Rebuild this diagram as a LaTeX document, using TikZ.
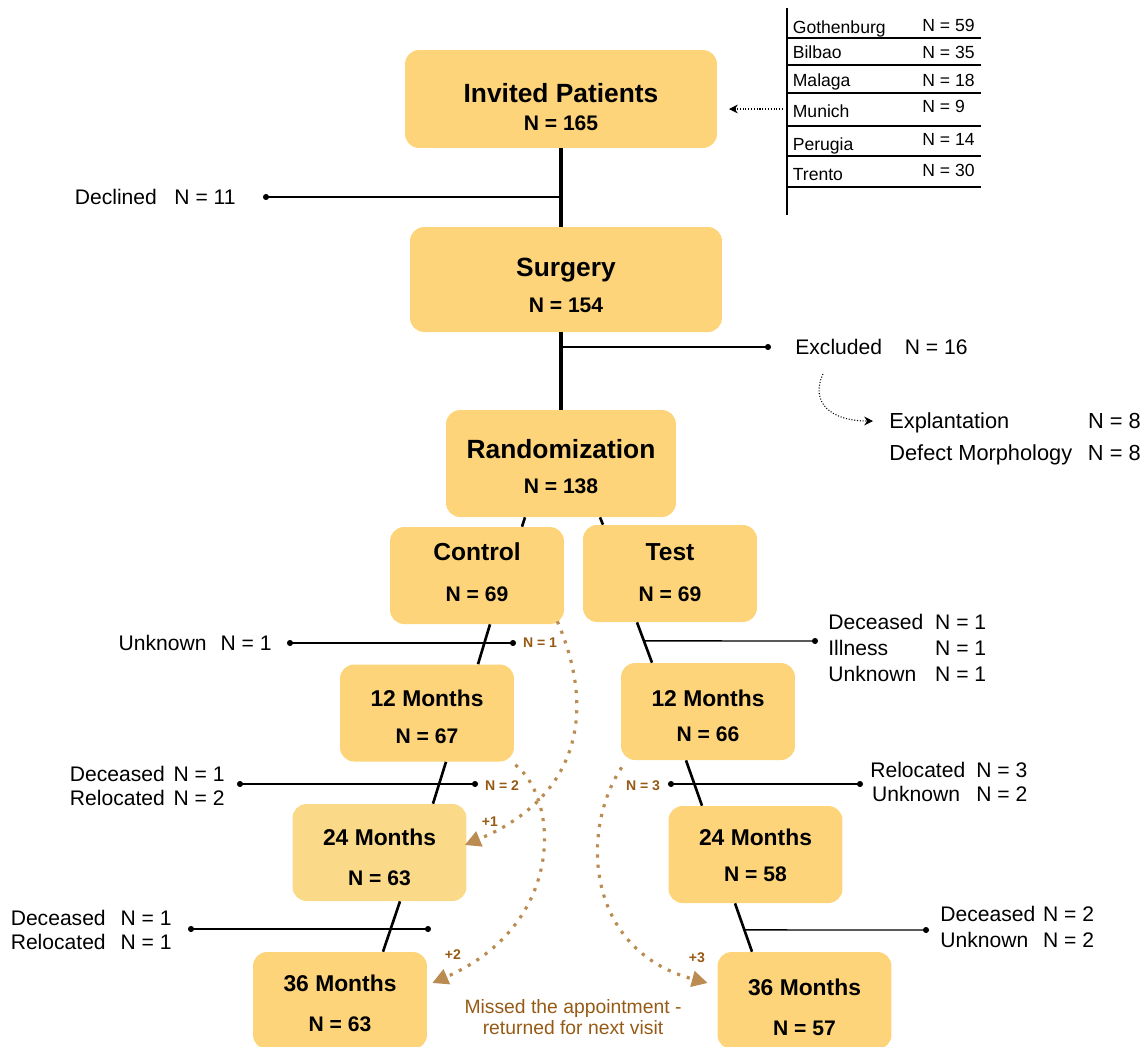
\documentclass[tikz,border=0pt]{standalone}
\usepackage{fontspec}
\setmainfont{Liberation Sans}
\usetikzlibrary{arrows.meta,calc}
\definecolor{boxfill}{RGB}{254,212,122}
\definecolor{boxpale}{RGB}{250,217,136}
\definecolor{missdot}{RGB}{186,140,82}
\definecolor{misstext}{RGB}{150,90,20}
\tikzset{
  stage/.style={rectangle, rounded corners=8pt, fill=boxfill, minimum width=3.48cm, minimum height=1.94cm,
    align=center, inner sep=0pt, font=\bfseries\fontsize{12}{14}\selectfont},
  trunk/.style={line width=2.3pt},
  stem/.style={line width=1.5pt},
  side/.style={line width=0.8pt, {Circle[length=3.4pt]}-{Circle[length=3.4pt]}, shorten <=-1.7pt, shorten >=-1.7pt},
  sideone/.style={line width=0.8pt, -{Circle[length=3.4pt]}, shorten >=-1.7pt},
  lbl/.style={inner sep=0pt, font=\fontsize{12}{14}\selectfont},
  site/.style={inner sep=0pt, anchor=base west, font=\fontsize{10}{12}\selectfont},
  cnt/.style={inner sep=0pt, text=misstext, font=\bfseries\fontsize{8}{10}\selectfont},
  missed/.style={missdot, line width=1.8pt, dash pattern=on 1.8pt off 4pt, -{Triangle[length=9pt,width=9pt]}},
  hint/.style={densely dotted, line width=0.6pt, -{Stealth[length=5pt,width=5pt]}},
}
\begin{document}
\begin{tikzpicture}[x=0.02cm, y=-0.02cm]
\useasboundingbox (0,0) rectangle (1143,1046);

\node[stage, minimum width=6.24cm, minimum height=1.96cm] (inv) at (561,99) {{\fontsize{15}{18}\selectfont\rule{0pt}{20pt}Invited Patients}\\[1.7pt]N = 165};
\node[stage, minimum width=6.24cm, minimum height=2.1cm] (surg) at (566,279.5) {{\fontsize{15}{18}\selectfont\rule{0pt}{17.2pt}Surgery}\\[6.8pt]N = 154};
\node[stage, minimum width=4.6cm, minimum height=2.14cm] (rand) at (561,463.5) {{\fontsize{15}{18}\selectfont\rule{0pt}{14.3pt}Randomization}\\[6.4pt]N = 138};
\node[stage] (ctl) at (477,575.5) {{\fontsize{14}{17}\selectfont Control}\\[9.4pt]N = 69\rule[-4pt]{0pt}{4pt}};
\node[stage] (tst) at (670,573.5) {{\fontsize{14}{17}\selectfont Test}\\[8.9pt]N = 69\rule[-1pt]{0pt}{1pt}};
\node[stage] (c12) at (427,713) {{\fontsize{13}{16}\selectfont\rule{0pt}{14.1pt}12 Months}\\[6.9pt]N = 67};
\node[stage] (t12) at (708,711.5) {{\fontsize{13}{16}\selectfont\rule{0pt}{14.1pt}12 Months}\\[5.9pt]N = 66};
\node[stage, fill=boxpale] (c24) at (379.5,852.5) {{\fontsize{13}{16}\selectfont\rule{0pt}{15.2pt}24 Months}\\[8.9pt]N = 63};
\node[stage] (t24) at (755.5,854.5) {{\fontsize{13}{16}\selectfont\rule{0pt}{10.6pt}24 Months}\\[6.4pt]N = 58};
\node[stage] (c36) at (340,1000.5) {{\fontsize{13}{16}\selectfont\rule{0pt}{12.9pt}36 Months}\\[8.9pt]N = 63};
\node[stage] (t36) at (804.5,1000.5) {{\fontsize{13}{16}\selectfont\rule{0pt}{17.5pt}36 Months}\\[8.9pt]N = 57};

\draw[trunk] (inv.south) -- (inv.south |- surg.north);
\draw[trunk] (rand.north |- surg.south) -- (rand.north);
\draw[stem] ($(rand.south)+(-36,0)$) -- ($(ctl.north)+(45,0)$);
\draw[stem] ($(rand.south)+(39,0)$) -- ($(tst.north)+(-67,0)$);
\draw[stem] ($(ctl.south)+(13,0)$) -- ($(c12.north)+(51,0)$);
\draw[stem] ($(tst.south)+(-33,0)$) -- coordinate[pos=.46] (tj1) ($(t12.north)+(-56,0)$);
\draw[stem] ($(c12.south)+(19,0)$) -- ($(c24.north)+(53.5,0)$);
\draw[stem] ($(t12.south)+(-22,0)$) -- ($(t24.north)+(-53.5,0)$);
\draw[stem] ($(c24.south)+(20.5,0)$) -- ($(c36.north)+(43,0)$);
\draw[stem] ($(t24.south)+(-20.5,0)$) -- coordinate[pos=.55] (tj3) ($(t36.north)+(-52.5,0)$);

\coordinate (dcl) at (266,197);
\draw[sideone] (dcl -| inv.south) -- (dcl);
\node[lbl, anchor=east] (dclT) at (236,197) {Declined\hspace{10pt}N = 11};

\coordinate (exc) at (768,347);
\draw[sideone] (exc -| rand.north) -- (exc);
\node[lbl, anchor=west] (excT) at (795,347) {Excluded\hspace{13pt}N = 16};
\node[lbl, anchor=base west, font=\fontsize{12.4}{14.5}\selectfont] (expl) at (889,428.5) {\renewcommand{\arraystretch}{1.26}\begin{tabular}[t]{@{}l@{\hspace{9pt}}l@{}}Explantation & N = 8\\ Defect Morphology & N = 8\end{tabular}};
\coordinate (excA) at (823,374);
\coordinate (excB) at (873,421);
\draw[hint] (excA) .. controls (810,402) and (830,421) .. (excB);

\draw[line width=0.7pt] (787,8) -- (787,215);
\draw[line width=0.6pt] (788,38) -- (981,38);
\draw[line width=0.6pt] (788,65) -- (981,65);
\draw[line width=0.6pt] (788,93) -- (981,93);
\draw[line width=0.6pt] (788,126) -- (981,126);
\draw[line width=0.6pt] (788,156) -- (981,156);
\draw[line width=0.6pt] (788,187) -- (981,187);
\node[site] (goth) at (792.5,33) {Gothenburg};
\node[site] (gothN) at (922,31.7) {N = 59};
\node[site] (bilb) at (792.5,58.3) {Bilbao};
\node[site] (bilbN) at (922,58.3) {N = 35};
\node[site] (mala) at (792.5,86) {Malaga};
\node[site] (malaN) at (922,86) {N = 18};
\node[site] (muni) at (792.5,117) {Munich};
\node[site] (muniN) at (922,112.7) {N = 9};
\node[site] (peru) at (792.5,150) {Perugia};
\node[site] (peruN) at (922,145.7) {N = 14};
\node[site] (tren) at (792.5,180) {Trento};
\node[site] (trenN) at (922,176.7) {N = 30};
\coordinate (siteA) at (783,109);
\coordinate (siteB) at (729,109);
\draw[hint] (siteA) -- (siteB);

\coordinate (cu1) at (290,643);
\coordinate (cu2) at (513,643);
\draw[side] (cu1) -- (cu2);
\node[lbl, anchor=east] (cuT) at (272,643) {Unknown\hspace{8pt}N = 1};
\node[cnt] (n1) at (540,643) {N = 1};

\coordinate (tx1) at (815,641);
\draw[sideone] (tj1) -- (tx1);
\node[lbl, anchor=base west] (txT) at (828,629.6) {\renewcommand{\arraystretch}{1.06}\begin{tabular}[t]{@{}l@{\hspace{6.8pt}}l@{}}Deceased & N = 1\\ Illness & N = 1\\ Unknown & N = 1\end{tabular}};

\coordinate (cd1) at (240,784);
\coordinate (cd2) at (475,784);
\draw[side] (cd1) -- (cd2);
\node[lbl, anchor=base east] (cdT) at (225,781.6) {\renewcommand{\arraystretch}{0.98}\begin{tabular}[t]{@{}l@{\hspace{5pt}}l@{}}Deceased & N = 1\\ Relocated & N = 2\end{tabular}};
\node[cnt] (n2) at (502,786) {N = 2};

\coordinate (td1) at (671,784);
\coordinate (td2) at (860,784);
\draw[side] (td1) -- (td2);
\node[lbl, anchor=base west] (tdT) at (870,777.6) {\renewcommand{\arraystretch}{0.98}\begin{tabular}[t]{@{}l@{\hspace{6.3pt}}l@{}}Relocated & N = 3\\ \hspace{1pt}Unknown & N = 2\end{tabular}};
\node[cnt] (n3) at (643,786) {N = 3};

\coordinate (cr1) at (191,929);
\coordinate (cr2) at (428,929);
\draw[side] (cr1) -- (cr2);
\node[lbl, anchor=base east] (crT) at (172,925.6) {\renewcommand{\arraystretch}{0.98}\begin{tabular}[t]{@{}l@{\hspace{8.5pt}}l@{}}Deceased & N = 1\\ Relocated & N = 1\end{tabular}};

\coordinate (tx3) at (926,930);
\draw[sideone] (tj3) -- (tx3);
\node[lbl, anchor=base west] (tx3T) at (940,921.6) {\renewcommand{\arraystretch}{1.06}\begin{tabular}[t]{@{}l@{\hspace{4.5pt}}l@{}}Deceased & N = 2\\ Unknown & N = 2\end{tabular}};

\draw[missed] ($(ctl.south east)+(-7,-3)$) .. controls (600,720) and (572,800) .. ($(c24.east)+(-2,-7.5)$);
\draw[missed] ($(c12.south east)+(1,3)$) .. controls (560,800) and (565,925) .. ($(c36.east)+(5,-17.5)$);
\draw[missed] ($(t12.south west)+(1,7)$) .. controls (580,830) and (585,950) .. ($(t36.west)+(-9.5,-17.5)$);
\node[cnt] (p1) at (490,822) {+1};
\node[cnt] (p2) at (453,955) {+2};
\node[cnt] (p3) at (697,958) {+3};
\node[lbl, text=misstext, align=center, font=\fontsize{11}{12}\selectfont] (miss) at (573,1017) {Missed the appointment -\\returned for next visit};
\end{tikzpicture}
\end{document}
